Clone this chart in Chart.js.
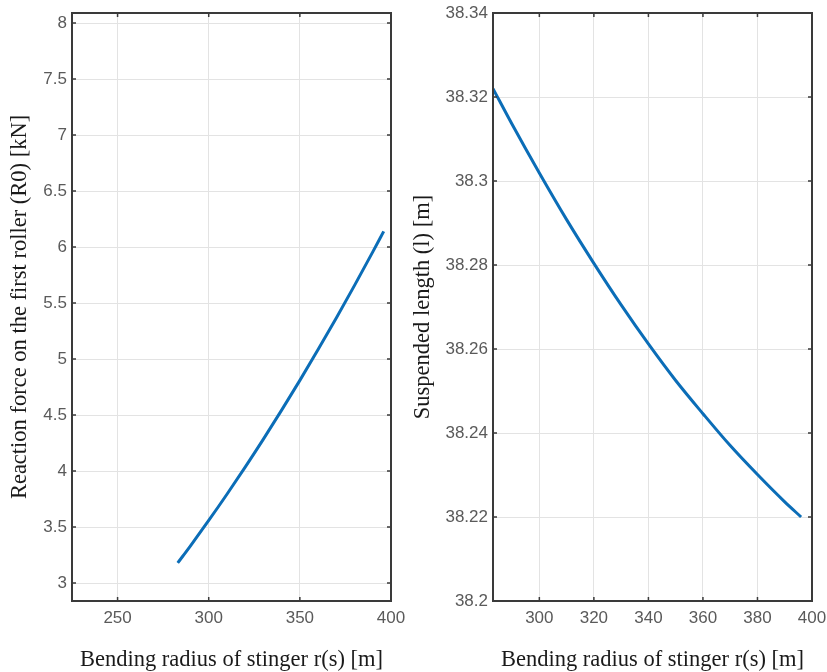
<!DOCTYPE html>
<html>
<head>
<meta charset="utf-8">
<script src="https://cdn.jsdelivr.net/npm/chart.js@4"></script>
<style>
  body { margin: 0; background: #fff; overflow: hidden; }
  .wrap { position: absolute; top: 0; height: 672px; }
</style>
</head>
<body>
<div class="wrap" style="left:0;width:410px"><canvas id="left"></canvas></div>
<div class="wrap" style="left:410px;width:417px"><canvas id="right"></canvas></div>
<script>
// bending radius of stinger r(s) [m]
var radius = [283, 290, 300, 310, 320, 330, 340, 350, 360, 370, 380, 390, 396];
// reaction force on first roller R0 [kN]
var reaction = [3.180, 3.333, 3.559, 3.793, 4.035, 4.285, 4.544, 4.810, 5.085, 5.367, 5.658, 5.957, 6.140];
// suspended length l [m]
var suspended = [38.3220, 38.3135, 38.3019, 38.2908, 38.2804, 38.2705, 38.2612, 38.2525, 38.2446, 38.2370, 38.2301, 38.2236, 38.2200];

var leftXTicks = [250, 300, 350, 400];
var leftYTicks = [3, 3.5, 4, 4.5, 5, 5.5, 6, 6.5, 7, 7.5, 8];
var rightXTicks = [300, 320, 340, 360, 380, 400];
var rightYTicks = [38.2, 38.22, 38.24, 38.26, 38.28, 38.3, 38.32, 38.34];

var xTitle = 'Bending radius of stinger r(s) [m]';
var tickFont = { family: 'Liberation Sans', size: 17 };
var titleFont = { family: 'Liberation Serif', size: 22.5, lineHeight: 1.05 };

// matlab style box with inner tick marks
var boxPlugin = {
  id: 'box',
  afterDraw: function(chart) {
    var c = chart.ctx, a = chart.chartArea;
    var xs = chart.scales.x, ys = chart.scales.y;
    c.save();
    c.strokeStyle = '#3a3a3a';
    c.lineWidth = 1.5;
    c.beginPath();
    xs.ticks.forEach(function(t) {
      var px = xs.getPixelForValue(t.value);
      c.moveTo(px, a.bottom); c.lineTo(px, a.bottom - 4);
      c.moveTo(px, a.top); c.lineTo(px, a.top + 4);
    });
    ys.ticks.forEach(function(t) {
      var py = ys.getPixelForValue(t.value);
      c.moveTo(a.left, py); c.lineTo(a.left + 4, py);
      c.moveTo(a.right, py); c.lineTo(a.right - 4, py);
    });
    c.stroke();
    c.lineWidth = 2;
    c.strokeRect(a.left, a.top, a.right - a.left, a.bottom - a.top);
    c.restore();
  }
};

function makeChart(id, yData, opt) {
  var pts = radius.map(function(r, i) { return { x: r, y: yData[i] }; });
  return new Chart(document.getElementById(id), {
    type: 'line',
    data: {
      datasets: [{
        data: pts,
        borderColor: '#0b6db7',
        borderWidth: 3,
        pointRadius: 0,
        fill: false,
        cubicInterpolationMode: 'monotone'
      }]
    },
    options: {
      responsive: true,
      maintainAspectRatio: false,
      animation: false,
      layout: { padding: { top: 13, right: opt.padRight, bottom: 0, left: 0 } },
      plugins: { legend: { display: false }, tooltip: { enabled: false } },
      scales: {
        x: {
          type: 'linear',
          min: opt.xMin, max: 400,
          afterBuildTicks: function(s) { s.ticks = opt.xTicks.map(function(v) { return { value: v }; }); },
          afterFit: function(s) { s.height = 71; s.paddingLeft = 0; s.paddingRight = 0; },
          grid: { color: '#e3e3e3', lineWidth: 1, drawTicks: false },
          border: { display: false },
          ticks: { font: tickFont, color: '#5a5a5a', padding: 7, maxRotation: 0 },
          title: { display: true, text: xTitle, font: titleFont, color: '#1a1a1a', padding: { top: 0, bottom: 0 } }
        },
        y: {
          min: opt.yMin, max: opt.yMax,
          afterBuildTicks: function(s) { s.ticks = opt.yTicks.map(function(v) { return { value: v }; }); },
          afterFit: function(s) { s.width = opt.yWidth; s.paddingTop = 0; s.paddingBottom = 0; },
          grid: { color: '#e3e3e3', lineWidth: 1, drawTicks: false },
          border: { display: false },
          ticks: {
            font: tickFont, color: '#5a5a5a', padding: 5,
            callback: function(v) { return String(Number(v.toFixed(2))); }
          },
          title: { display: true, text: opt.yTitle, font: titleFont, color: '#1a1a1a', padding: { top: opt.yTitlePad, bottom: 0 } }
        }
      }
    },
    plugins: [boxPlugin]
  });
}

makeChart('left', reaction, {
  xMin: 225, xTicks: leftXTicks, yMin: 2.84, yMax: 8.09, yTicks: leftYTicks,
  yWidth: 72, padRight: 19, yTitlePad: 8,
  yTitle: 'Reaction force on the first roller (R0) [kN]'
});
makeChart('right', suspended, {
  xMin: 283, xTicks: rightXTicks, yMin: 38.2, yMax: 38.34, yTicks: rightYTicks,
  yWidth: 83, padRight: 15, yTitlePad: 1,
  yTitle: 'Suspended length (l) [m]'
});
</script>
</body>
</html>
